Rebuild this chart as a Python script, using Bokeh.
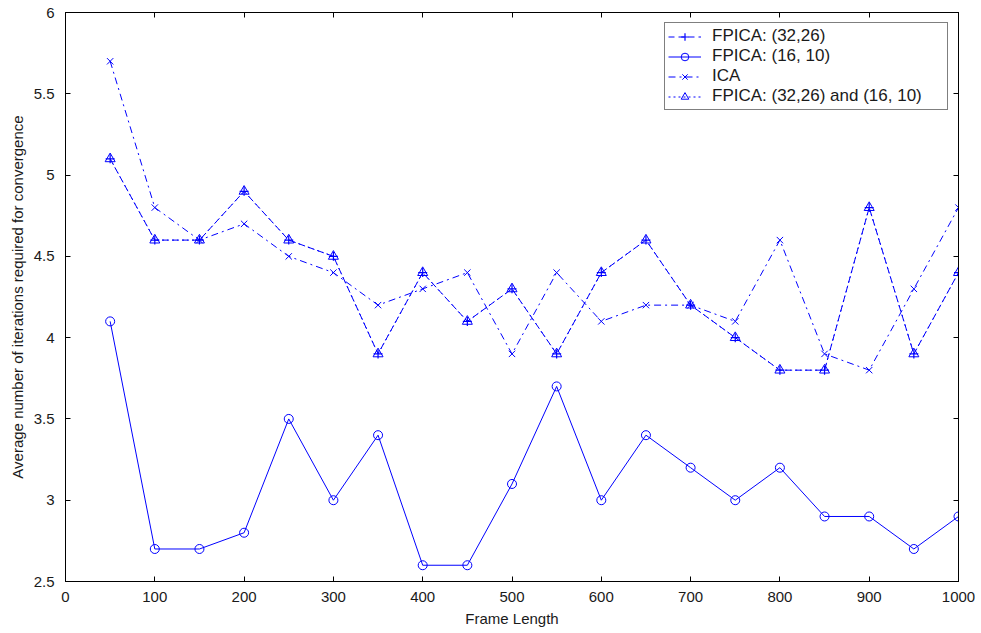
from bokeh.plotting import figure
from bokeh.models import (LinearAxis, Legend, LegendItem, Range1d, SingleIntervalTicker,
                          NumeralTickFormatter, ColumnDataSource, CustomJSTickFormatter)
from bokeh.embed import file_html
from bokeh.resources import INLINE

frame_length = [50, 100, 150, 200, 250, 300, 350, 400, 450, 500,
                550, 600, 650, 700, 750, 800, 850, 900, 950, 1000]
fpica_32_26 = [5.1, 4.6, 4.6, 4.9, 4.6, 4.5, 3.9, 4.4, 4.1, 4.3,
               3.9, 4.4, 4.6, 4.2, 4.0, 3.8, 3.8, 4.8, 3.9, 4.4]
fpica_16_10 = [4.1, 2.7, 2.7, 2.8, 3.5, 3.0, 3.4, 2.6, 2.6, 3.1,
               3.7, 3.0, 3.4, 3.2, 3.0, 3.2, 2.9, 2.9, 2.7, 2.9]
ica = [5.7, 4.8, 4.6, 4.7, 4.5, 4.4, 4.2, 4.3, 4.4, 3.9,
       4.4, 4.1, 4.2, 4.2, 4.1, 4.6, 3.9, 3.8, 4.3, 4.8]
fpica_both = [5.1, 4.6, 4.6, 4.9, 4.6, 4.5, 3.9, 4.4, 4.1, 4.3,
              3.9, 4.4, 4.6, 4.2, 4.0, 3.8, 3.8, 4.8, 3.9, 4.4]

FONT = "Liberation Sans"
BLUE = "#0000ff"
TXT = "#1a1a1a"

p = figure(width=975, height=630, output_backend="svg", toolbar_location=None,
           x_range=Range1d(0, 1000), y_range=Range1d(2.5, 6),
           min_border_left=65, min_border_right=17, min_border_top=12, min_border_bottom=49)
p.xgrid.visible = False
p.ygrid.visible = False
p.outline_line_color = "black"
p.outline_line_width = 1
p.background_fill_color = "white"
p.border_fill_color = "white"

for ax in (p.xaxis[0], p.yaxis[0]):
    ax.major_tick_in = 5
    ax.major_tick_out = 0
    ax.minor_tick_line_color = None
    ax.axis_line_color = "black"
    ax.major_tick_line_color = "black"
    ax.major_label_text_font = FONT
    ax.major_label_text_font_size = "15px"
    ax.major_label_text_color = TXT
    ax.axis_label_text_font = FONT
    ax.axis_label_text_font_size = "15px"
    ax.axis_label_text_font_style = "normal"
    ax.axis_label_text_color = TXT

p.xaxis[0].ticker = SingleIntervalTicker(interval=100)
p.yaxis[0].ticker = SingleIntervalTicker(interval=0.5)
p.yaxis[0].formatter = NumeralTickFormatter(format="0.[0]")
p.xaxis[0].axis_label = "Frame Length"
p.yaxis[0].axis_label = "Average number of iterations required for convergence"
p.xaxis[0].major_label_standoff = 6
p.yaxis[0].major_label_standoff = 7
p.xaxis[0].axis_label_standoff = 5
p.yaxis[0].axis_label_standoff = 5

blank = CustomJSTickFormatter(code="return '';")
top = LinearAxis(ticker=SingleIntervalTicker(interval=100), formatter=blank)
right = LinearAxis(ticker=SingleIntervalTicker(interval=0.5), formatter=blank)
for ax in (top, right):
    ax.major_tick_in = 5
    ax.major_tick_out = 0
    ax.minor_tick_line_color = None
    ax.major_label_standoff = 0
    ax.major_label_text_font_size = "1px"
    ax.axis_line_color = "black"
    ax.major_tick_line_color = "black"
p.add_layout(top, "above")
p.add_layout(right, "right")

src = ColumnDataSource(dict(x=frame_length, a=fpica_32_26, b=fpica_16_10, c=ica, d=fpica_both))

l1 = p.line("x", "a", source=src, line_color=BLUE, line_width=1, line_dash="6 4")
m1 = p.scatter("x", "a", source=src, marker="cross", size=9, line_color=BLUE, line_width=1.2)
l2 = p.line("x", "b", source=src, line_color=BLUE, line_width=1)
m2 = p.scatter("x", "b", source=src, marker="circle", size=9, line_color=BLUE,
               fill_color=None, line_width=1)
l3 = p.line("x", "c", source=src, line_color=BLUE, line_width=1, line_dash="7 4 2 4")
m3 = p.scatter("x", "c", source=src, marker="x", size=9, line_color=BLUE, line_width=1)
l4 = p.line("x", "d", source=src, line_color=BLUE, line_width=1, line_dash="2 3")
m4 = p.scatter("x", "d", source=src, marker="triangle", size=10, line_color=BLUE,
               fill_color=None, line_width=1)

legend = Legend(items=[
    LegendItem(label="FPICA: (32,26)", renderers=[l1, m1]),
    LegendItem(label="FPICA: (16, 10)", renderers=[l2, m2]),
    LegendItem(label="ICA", renderers=[l3, m3]),
    LegendItem(label="FPICA: (32,26) and (16, 10)", renderers=[l4, m4]),
], location="top_right")
legend.label_text_font = FONT
legend.label_text_font_size = "17px"
legend.label_text_color = TXT
legend.border_line_color = "black"
legend.border_line_width = 1
legend.background_fill_alpha = 1
legend.glyph_width = 33
legend.glyph_height = 19
legend.label_height = 19
legend.label_width = 232
legend.spacing = 0
legend.padding = 3
legend.label_standoff = 11
legend.margin = 10
p.add_layout(legend, "center")

open("out.html", "w").write(file_html(p, INLINE))
